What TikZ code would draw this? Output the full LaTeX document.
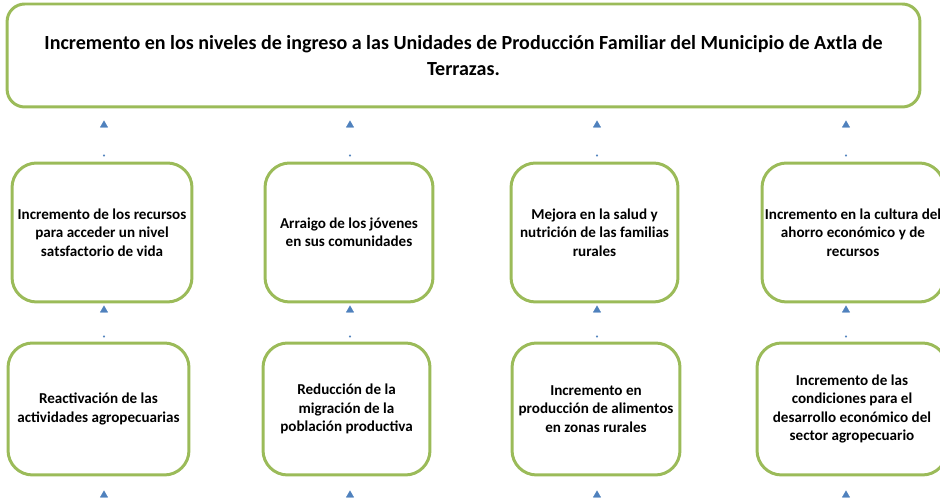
\documentclass[tikz,border=0pt]{standalone}
\usepackage{fontspec}
\setmainfont{Carlito}
\usetikzlibrary{arrows.meta}

\definecolor{boxgreen}{RGB}{155,187,89}
\definecolor{arrowblue}{RGB}{79,129,189}

\tikzset{
  goal/.style={draw=boxgreen, line width=1.7pt, rounded corners=10pt,
    minimum width=18.26cm, minimum height=2.06cm, align=center,
    font=\fontsize{11.4}{14.5}\selectfont\bfseries},
  effect/.style={draw=boxgreen, line width=1.7pt, rounded corners=14pt,
    align=center, inner sep=1pt, font=\fontsize{8.6}{10.5}\selectfont\bfseries},
  link/.style={draw=white, line width=0.2pt,
    {Circle[length=0.04cm,color=arrowblue]}-{Triangle[length=0.14cm,width=0.16cm,color=arrowblue]}}
}

\begin{document}
\begin{tikzpicture}[x=0.02cm, y=-0.02cm]
\clip (0,0) rectangle (940,502);

\node[goal] (top) at (463.5,55.5) {Incremento en los niveles de ingreso a las Unidades de Producción Familiar del Municipio de Axtla de\\Terrazas.};

% fines
\node[effect, minimum width=3.6cm, minimum height=2.78cm] (b1) at (102,232.5) {Incremento de los recursos\\para acceder un nivel\\satsfactorio de vida};
\node[effect, minimum width=3.36cm, minimum height=2.78cm] (b2) at (349,232.5) {Arraigo de los jóvenes\\en sus comunidades};
\node[effect, minimum width=3.34cm, minimum height=2.78cm] (b3) at (594.5,232.5) {Mejora en la salud y\\nutrición de las familias\\rurales};
\node[effect, minimum width=3.64cm, minimum height=2.78cm] (b4) at (853,232.5) {Incremento en la cultura del\\ahorro económico y de\\recursos};

% efectos directos
\node[effect, minimum width=3.62cm, minimum height=2.64cm] (c1) at (98.5,409) {Reactivación de las\\actividades agropecuarias};
\node[effect, minimum width=3.34cm, minimum height=2.64cm] (c2) at (346.5,409) {Reducción de la\\migración de la\\población productiva};
\node[effect, minimum width=3.36cm, minimum height=2.64cm] (c3) at (596,409) {Incremento en\\producción de alimentos\\en zonas rurales};
\node[effect, minimum width=3.8cm, minimum height=2.64cm] (c4) at (852,409) {Incremento de las\\condiciones para el\\desarrollo económico del\\sector agropecuario};

\foreach \lo/\up/\x in {b1/top/104, b2/top/350, b3/top/597, b4/top/846}
  \draw[link, shorten <=0.1cm, shorten >=0.24cm] (\lo.north -| \x,0) -- (\up.south -| \x,0);

\foreach \lo/\up/\x in {c1/b1/104, c2/b2/350, c3/b3/597, c4/b4/846}
  \draw[link, shorten <=0.08cm, shorten >=0.04cm] (\lo.north -| \x,0) -- (\up.south -| \x,0);

\foreach \n/\x in {1/104, 2/350, 3/597, 4/846} {
  \coordinate (in\n) at (\x,530);
  \draw[link, shorten >=0.28cm] (in\n) -- (c\n.south -| in\n);
}
\end{tikzpicture}
\end{document}
